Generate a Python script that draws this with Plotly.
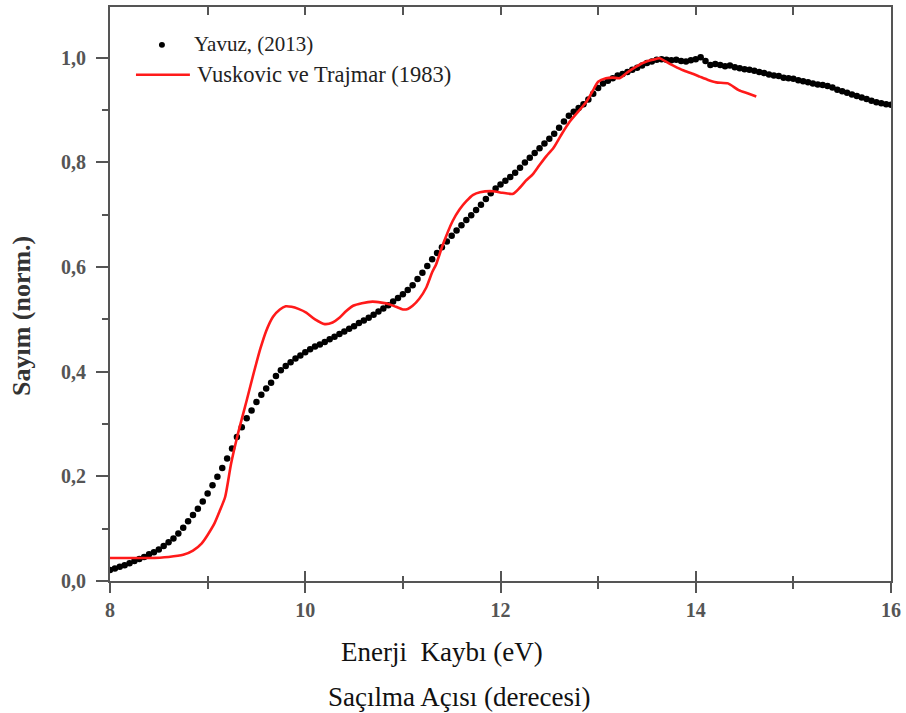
import plotly.graph_objects as go

# ---- Data ----
yavuz_energy = [
    8.00, 8.05, 8.10, 8.15, 8.20, 8.25, 8.30, 8.35, 8.40, 8.45,
    8.50, 8.55, 8.60, 8.65, 8.70, 8.75, 8.80, 8.85, 8.90, 8.95,
    9.00, 9.05, 9.10, 9.15, 9.20, 9.25, 9.30, 9.35, 9.40, 9.45,
    9.50, 9.55, 9.60, 9.65, 9.70, 9.75, 9.80, 9.85, 9.90, 9.95,
    10.00, 10.05, 10.10, 10.15, 10.20, 10.25, 10.30, 10.35, 10.40, 10.45,
    10.50, 10.55, 10.60, 10.65, 10.70, 10.75, 10.80, 10.85, 10.90, 10.95,
    11.00, 11.05, 11.10, 11.15, 11.20, 11.25, 11.30, 11.35, 11.40, 11.45,
    11.50, 11.55, 11.60, 11.65, 11.70, 11.75, 11.80, 11.85, 11.90, 11.95,
    12.00, 12.05, 12.10, 12.15, 12.20, 12.25, 12.30, 12.35, 12.40, 12.45,
    12.50, 12.55, 12.60, 12.65, 12.70, 12.75, 12.80, 12.85, 12.90, 12.95,
    13.00, 13.05, 13.10, 13.15, 13.20, 13.25, 13.30, 13.35, 13.40, 13.45,
    13.50, 13.55, 13.60, 13.65, 13.70, 13.75, 13.80, 13.85, 13.90, 13.95,
    14.00, 14.05, 14.10, 14.15, 14.20, 14.25, 14.30, 14.35, 14.40, 14.45,
    14.50, 14.55, 14.60, 14.65, 14.70, 14.75, 14.80, 14.85, 14.90, 14.95,
    15.00, 15.05, 15.10, 15.15, 15.20, 15.25, 15.30, 15.35, 15.40, 15.45,
    15.50, 15.55, 15.60, 15.65, 15.70, 15.75, 15.80, 15.85, 15.90, 15.95,
    16.00,
]
yavuz_counts = [
    0.021, 0.024, 0.027, 0.030, 0.034, 0.038, 0.042, 0.046, 0.051, 0.055,
    0.060, 0.067, 0.074, 0.081, 0.091, 0.102, 0.114, 0.126, 0.138, 0.152,
    0.167, 0.183, 0.199, 0.216, 0.234, 0.253, 0.275, 0.294, 0.311, 0.326,
    0.342, 0.356, 0.368, 0.379, 0.392, 0.403, 0.411, 0.418, 0.425, 0.431,
    0.437, 0.443, 0.448, 0.452, 0.457, 0.462, 0.467, 0.472, 0.477, 0.482,
    0.487, 0.493, 0.498, 0.503, 0.509, 0.515, 0.521, 0.527, 0.534, 0.541,
    0.548, 0.556, 0.565, 0.577, 0.589, 0.602, 0.615, 0.627, 0.638, 0.649,
    0.660, 0.670, 0.680, 0.690, 0.699, 0.709, 0.719, 0.730, 0.741, 0.750,
    0.758, 0.765, 0.772, 0.780, 0.790, 0.800, 0.809, 0.818, 0.827, 0.836,
    0.845, 0.855, 0.866, 0.878, 0.889, 0.897, 0.904, 0.911, 0.920, 0.931,
    0.942, 0.951, 0.956, 0.961, 0.966, 0.969, 0.973, 0.977, 0.981, 0.985,
    0.990, 0.993, 0.996, 0.997, 0.996, 0.995, 0.996, 0.994, 0.993, 0.995,
    0.997, 1.001, 0.994, 0.986, 0.988, 0.986, 0.984, 0.985, 0.982, 0.980,
    0.978, 0.977, 0.975, 0.973, 0.971, 0.968, 0.966, 0.965, 0.962, 0.961,
    0.960, 0.957, 0.955, 0.953, 0.951, 0.949, 0.948, 0.946, 0.943, 0.939,
    0.936, 0.933, 0.930, 0.927, 0.924, 0.921, 0.918, 0.915, 0.913, 0.911,
    0.910,
]

vt_energy = [
    8.00, 8.20, 8.40, 8.60, 8.75, 8.85, 8.94, 9.00, 9.07, 9.12,
    9.18, 9.24, 9.31, 9.40, 9.47, 9.54, 9.60, 9.67, 9.74, 9.80,
    9.86, 9.93, 10.01, 10.10, 10.20, 10.28, 10.35, 10.42, 10.49, 10.58,
    10.69, 10.78, 10.86, 10.93, 11.00, 11.05, 11.10, 11.17, 11.24, 11.30,
    11.34, 11.41, 11.51, 11.58, 11.65, 11.72, 11.79, 11.92, 12.02, 12.13,
    12.20, 12.26, 12.33, 12.40, 12.47, 12.54, 12.62, 12.71, 12.80, 12.88,
    12.94, 13.00, 13.08, 13.15, 13.22, 13.30, 13.39, 13.47, 13.56, 13.63,
    13.69, 13.78, 13.87, 13.96, 14.04, 14.12, 14.21, 14.33, 14.44, 14.53,
    14.62,
]
vt_counts = [
    0.044, 0.044, 0.044, 0.046, 0.050, 0.058, 0.072, 0.088, 0.110, 0.132,
    0.161, 0.224, 0.281, 0.345, 0.396, 0.444, 0.478, 0.505, 0.519, 0.525,
    0.524, 0.520, 0.513, 0.500, 0.491, 0.494, 0.503, 0.516, 0.526, 0.531,
    0.534, 0.532, 0.529, 0.524, 0.519, 0.520, 0.526, 0.540, 0.561, 0.590,
    0.605, 0.643, 0.688, 0.710, 0.726, 0.738, 0.743, 0.745, 0.742, 0.740,
    0.752, 0.765, 0.777, 0.795, 0.812, 0.827, 0.852, 0.878, 0.898, 0.916,
    0.935, 0.954, 0.961, 0.962, 0.961, 0.972, 0.983, 0.991, 0.996, 0.999,
    0.993, 0.984, 0.976, 0.970, 0.964, 0.958, 0.953, 0.951, 0.938, 0.932,
    0.926,
]

x_tick_vals = [8, 10, 12, 14, 16]
x_tick_text = ["8", "10", "12", "14", "16"]
y_tick_vals = [0.0, 0.2, 0.4, 0.6, 0.8, 1.0]
y_tick_text = ["0,0", "0,2", "0,4", "0,6", "0,8", "1,0"]

legend_labels = ["Yavuz, (2013)", "Vuskovic ve Trajmar (1983)"]
x_title = "Enerji  Kaybı (eV)"
x_subtitle = "Saçılma Açısı (derecesi)"
y_title = "Sayım (norm.)"

# ---- Figure ----
W, H = 906, 713
ML, MR, MT, MB = 110, 14, 5, 132
PW, PH = W - ML - MR, H - MT - MB


def px(xp):
    return (xp - ML) / PW


def py(yp):
    return (H - MB - yp) / PH


SERIF = "Liberation Serif, Times New Roman, serif"
AXIS_COLOR = "#555555"

fig = go.Figure()
fig.add_trace(go.Scatter(
    x=yavuz_energy, y=yavuz_counts, mode="markers",
    marker=dict(color="black", size=6.5, line=dict(width=0)),
    name=legend_labels[0], showlegend=False,
))
fig.add_trace(go.Scatter(
    x=vt_energy, y=vt_counts, mode="lines",
    line=dict(color="#ff1a1a", width=2.6, shape="spline", smoothing=0.6),
    name=legend_labels[1], showlegend=False,
))

xr = [8, 16]
yr = [0, 1.097]

fig.update_layout(
    width=W, height=H,
    margin=dict(l=ML, r=MR, t=MT, b=MB),
    paper_bgcolor="white", plot_bgcolor="white",
    showlegend=False,
    font=dict(family=SERIF, color="#333333"),
    xaxis=dict(
        range=xr, showgrid=False, zeroline=False,
        showline=True, linecolor=AXIS_COLOR, linewidth=2, mirror=True,
        tickmode="array", tickvals=x_tick_vals, ticktext=x_tick_text,
        ticks="outside", ticklen=10, tickwidth=2, tickcolor=AXIS_COLOR,
        minor=dict(dtick=1, ticks="outside", ticklen=6, tickwidth=2,
                   tickcolor=AXIS_COLOR, showgrid=False),
        tickfont=dict(family=SERIF, size=20, color="#555555", weight="bold"),
    ),
    xaxis2=dict(
        range=xr, overlaying="x", side="top", showgrid=False, zeroline=False,
        showticklabels=False, showline=False,
        tickmode="linear", tick0=8, dtick=1,
        ticks="inside", ticklen=8, tickwidth=2, tickcolor=AXIS_COLOR,
    ),
    xaxis3=dict(
        range=xr, overlaying="x", side="bottom", showgrid=False, zeroline=False,
        showticklabels=False, showline=False,
        tickmode="array", tickvals=x_tick_vals,
        ticks="inside", ticklen=10, tickwidth=2, tickcolor=AXIS_COLOR,
        minor=dict(dtick=1, ticks="inside", ticklen=5, tickwidth=2,
                   tickcolor=AXIS_COLOR, showgrid=False),
    ),
    yaxis=dict(
        range=yr, showgrid=False, zeroline=False,
        showline=True, linecolor=AXIS_COLOR, linewidth=2, mirror=True,
        tickmode="array", tickvals=y_tick_vals, ticktext=y_tick_text,
        ticks="outside", ticklen=12, tickwidth=2, tickcolor=AXIS_COLOR,
        minor=dict(dtick=0.1, tick0=0, ticks="outside", ticklen=6, tickwidth=2,
                   tickcolor=AXIS_COLOR, showgrid=False),
        tickfont=dict(family=SERIF, size=20, color="#555555", weight="bold"),
        ticklabelstandoff=6,
    ),
)

# invisible traces to activate the auxiliary tick axes
fig.add_trace(go.Scatter(x=[8], y=[0], xaxis="x2", mode="markers",
                         marker=dict(opacity=0), hoverinfo="skip", showlegend=False))
fig.add_trace(go.Scatter(x=[8], y=[0], xaxis="x3", mode="markers",
                         marker=dict(opacity=0), hoverinfo="skip", showlegend=False))

# axis titles
fig.add_annotation(text=x_title, xref="paper", yref="paper",
                   x=px(442), y=py(652), showarrow=False,
                   xanchor="center", yanchor="middle",
                   font=dict(family=SERIF, size=27, color="#111111"))
fig.add_annotation(text=x_subtitle, xref="paper", yref="paper",
                   x=px(459), y=py(697), showarrow=False,
                   xanchor="center", yanchor="middle",
                   font=dict(family=SERIF, size=27, color="#111111"))
fig.add_annotation(text=y_title, xref="paper", yref="paper",
                   x=px(22), y=py(315), showarrow=False, textangle=-90,
                   xanchor="center", yanchor="middle",
                   font=dict(family=SERIF, size=26, color="#333333", weight="bold"))

# manual legend
fig.add_shape(type="circle", xref="paper", yref="paper",
              x0=px(159), x1=px(165), y0=py(46), y1=py(40),
              fillcolor="black", line=dict(width=0))
fig.add_annotation(text=legend_labels[0], xref="paper", yref="paper",
                   x=px(192), y=py(42), showarrow=False,
                   xanchor="left", yanchor="middle",
                   font=dict(family=SERIF, size=21, color="#222222"))
fig.add_shape(type="line", xref="paper", yref="paper",
              x0=px(136), x1=px(190), y0=py(73), y1=py(73),
              line=dict(color="#ff1a1a", width=2.6))
fig.add_annotation(text=legend_labels[1], xref="paper", yref="paper",
                   x=px(195), y=py(73), showarrow=False,
                   xanchor="left", yanchor="middle",
                   font=dict(family=SERIF, size=22.5, color="#222222"))

fig.write_html("out.html",
               config={"displayModeBar": False},
               post_script="document.body.style.margin='0';document.body.style.overflow='hidden';")
